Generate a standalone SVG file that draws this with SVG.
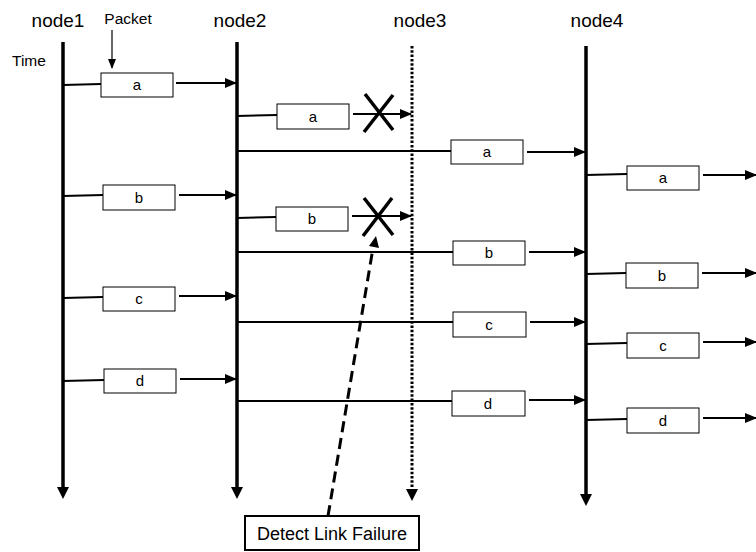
<svg xmlns="http://www.w3.org/2000/svg" width="756" height="552" viewBox="0 0 756 552">
<defs>
<marker id="ah" markerWidth="12" markerHeight="10" refX="11" refY="5" orient="auto" markerUnits="userSpaceOnUse"><path d="M0,0 L12,5 L0,10 Z" fill="#000"/></marker>
<marker id="ahs" markerWidth="10" markerHeight="8" refX="9" refY="4" orient="auto" markerUnits="userSpaceOnUse"><path d="M0,0 L10,4 L0,8 Z" fill="#000"/></marker>
</defs>
<style>
text{font-family:"Liberation Sans",Arial,sans-serif;fill:#000}
.nl{font-size:19px;text-anchor:middle}
.bt{font-size:15px;text-anchor:middle}
.life{stroke:#000;stroke-width:3.5;fill:none}
.ln{stroke:#000;stroke-width:2;fill:none}
.ar{stroke:#000;stroke-width:2;fill:none;marker-end:url(#ah)}
.box{fill:#fff;stroke:#000;stroke-width:1}
.x{stroke:#000;stroke-width:3.5}
</style>
<rect width="756" height="552" fill="#fff"/>
<g id="node1"><text class="nl" x="58" y="27">node1</text><line class="life" x1="63" y1="42" x2="63" y2="488"/><path d="M57,487 L69,487 L63,499 Z"/></g>
<g id="node2"><text class="nl" x="240" y="27">node2</text><line class="life" x1="237" y1="42" x2="237" y2="488"/><path d="M231,487 L243,487 L237,499 Z"/></g>
<g id="node3"><text class="nl" x="420" y="27">node3</text><line x1="412" y1="46" x2="412" y2="490" stroke="#000" stroke-width="3" stroke-dasharray="2.5,1.8"/><path d="M406,489 L418,489 L412,501 Z"/></g>
<g id="node4"><text class="nl" x="597" y="27">node4</text><line class="life" x1="586" y1="46" x2="586" y2="495"/><path d="M580,494 L592,494 L586,506 Z"/></g>
<g id="annot">
<text x="128" y="24" font-size="15.5" text-anchor="middle">Packet</text>
<line x1="112" y1="30" x2="112" y2="68" stroke="#000" stroke-width="1.2" marker-end="url(#ahs)"/>
<text x="12" y="66" font-size="15.5">Time</text>
</g>
<g id="connectors">
<path class="ln" d="M63,85 L101,84"/><path class="ar" d="M176,83 L236,83"/>
<path class="ln" d="M63,196 L103,195"/><path class="ar" d="M179,195 L236,195"/>
<path class="ln" d="M63,298 L103,297"/><path class="ar" d="M179,296 L236,296"/>
<path class="ln" d="M63,381 L104,380"/><path class="ar" d="M180,379 L236,379"/>
<path class="ln" d="M237,116 L277,115"/><path class="ar" d="M353,114 L411,114"/>
<path class="ln" d="M237,218 L276,217"/><path class="ar" d="M352,216 L411,216"/>
<path class="ln" d="M237,151 L451,151"/><path class="ar" d="M527,152 L585,152"/>
<path class="ln" d="M237,252 L453,252"/><path class="ar" d="M529,252 L585,252"/>
<path class="ln" d="M237,322 L453,322"/><path class="ar" d="M530,322 L585,322"/>
<path class="ln" d="M237,401 L452,401"/><path class="ar" d="M529,400 L585,400"/>
<path class="ln" d="M586,175 L627,174"/><path class="ar" d="M703,175 L756,175"/>
<path class="ln" d="M586,274 L626,273"/><path class="ar" d="M702,273 L756,273"/>
<path class="ln" d="M586,344 L627,343"/><path class="ar" d="M703,342 L756,342"/>
<path class="ln" d="M586,420 L627,419"/><path class="ar" d="M703,418 L756,418"/>
<line x1="328" y1="516" x2="373" y2="248" stroke="#000" stroke-width="3" stroke-dasharray="11,6"/>
<path d="M369,246 L379,248 L376,236 Z"/>
</g>
<g id="packets">
<g id="p1a"><rect class="box" x="101" y="73" width="72" height="24"/><text class="bt" x="137" y="90">a</text></g>
<g id="p1b"><rect class="box" x="103" y="185" width="72" height="25"/><text class="bt" x="139" y="203">b</text></g>
<g id="p1c"><rect class="box" x="103" y="287" width="72" height="24"/><text class="bt" x="139" y="304">c</text></g>
<g id="p1d"><rect class="box" x="104" y="369" width="72" height="24"/><text class="bt" x="140" y="386">d</text></g>
<g id="p2a"><rect class="box" x="277" y="104" width="72" height="25"/><text class="bt" x="313" y="122">a</text></g>
<g id="p2b"><rect class="box" x="276" y="207" width="72" height="24"/><text class="bt" x="312" y="224">b</text></g>
<g id="p3a"><rect class="box" x="451" y="140" width="72" height="24"/><text class="bt" x="487" y="157">a</text></g>
<g id="p3b"><rect class="box" x="453" y="241" width="72" height="24"/><text class="bt" x="489" y="258">b</text></g>
<g id="p3c"><rect class="box" x="453" y="312" width="73" height="25"/><text class="bt" x="489" y="330">c</text></g>
<g id="p3d"><rect class="box" x="452" y="391" width="73" height="25"/><text class="bt" x="488" y="409">d</text></g>
<g id="p4a"><rect class="box" x="627" y="166" width="72" height="24"/><text class="bt" x="663" y="183">a</text></g>
<g id="p4b"><rect class="box" x="626" y="263" width="72" height="25"/><text class="bt" x="662" y="281">b</text></g>
<g id="p4c"><rect class="box" x="627" y="333" width="72" height="25"/><text class="bt" x="663" y="351">c</text></g>
<g id="p4d"><rect class="box" x="627" y="408" width="72" height="25"/><text class="bt" x="663" y="426">d</text></g>
</g>
<g id="fail1"><line class="x" x1="365" y1="94" x2="393" y2="130"/><line class="x" x1="393" y1="95" x2="364" y2="132"/></g>
<g id="fail2"><line class="x" x1="364" y1="198" x2="393" y2="235"/><line class="x" x1="392" y1="198" x2="363" y2="236"/></g>
<g id="detect"><rect x="245" y="516" width="174" height="34" fill="#fff" stroke="#000" stroke-width="2"/><text x="332" y="540" font-size="18" text-anchor="middle">Detect Link Failure</text></g>
</svg>
